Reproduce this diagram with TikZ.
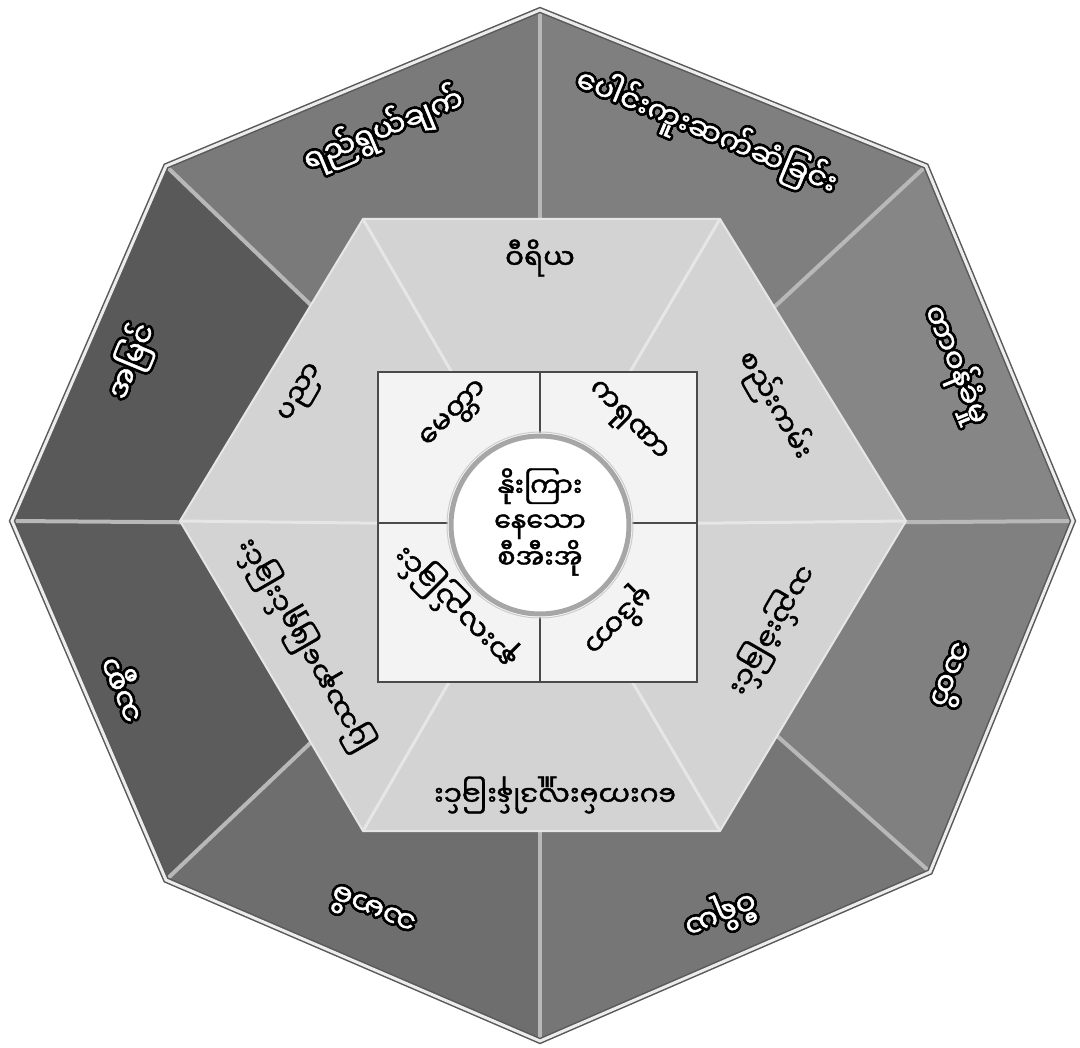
\documentclass[tikz,border=0pt]{standalone}
\usepackage{fontspec}
\usepackage{contour}
\newfontfamily\mm[Script=Myanmar]{Noto Sans Myanmar UI}
\newfontfamily\mmb[Script=Myanmar,FakeBold=1.5]{Noto Sans Myanmar UI}
\contourlength{2.6pt}
\contournumber{24}
\definecolor{outA}{HTML}{7A7A7A}
\definecolor{outB}{HTML}{7F7F7F}
\definecolor{outC}{HTML}{868686}
\definecolor{outD}{HTML}{808080}
\definecolor{outE}{HTML}{767676}
\definecolor{outF}{HTML}{6E6E6E}
\definecolor{outG}{HTML}{5C5C5C}
\definecolor{outH}{HTML}{595959}
\definecolor{hexfill}{HTML}{D3D3D3}
\definecolor{sqfill}{HTML}{F3F3F3}
\definecolor{spoke}{HTML}{B8B8B8}
\definecolor{hexspoke}{HTML}{E6E6E6}
\definecolor{darkline}{HTML}{4A4A4A}
\tikzset{
  outlbl/.style={inner sep=0pt, font=\mmb\fontsize{30}{36}\selectfont},
  hexlbl/.style={inner sep=0pt, font=\mmb\fontsize{28}{34}\selectfont, text=black},
  sqlbl/.style={inner sep=0pt, font=\mmb\fontsize{29}{34}\selectfont, text=black},
}
\newcommand{\wout}[1]{\contour{black}{\textcolor{white}{#1}}}
\begin{document}
\begin{tikzpicture}[x=1pt,y=-1pt]
\useasboundingbox (0,0) rectangle (1080,1048);
\fill[white] (0,0) rectangle (1080,1048);
% octagon vertices
\coordinate (C) at (540,525);
\coordinate (T) at (540,10);
\coordinate (TR) at (926,166);
\coordinate (R) at (1073,521);
\coordinate (BR) at (930,872);
\coordinate (B) at (540,1041);
\coordinate (BL) at (166,880);
\coordinate (L) at (12,521);
\coordinate (TL) at (166,166);
% outer sectors
\fill[outA] (C) -- (TL) -- (T) -- cycle;
\fill[outB] (C) -- (T) -- (TR) -- cycle;
\fill[outC] (C) -- (TR) -- (R) -- cycle;
\fill[outD] (C) -- (R) -- (BR) -- cycle;
\fill[outE] (C) -- (BR) -- (B) -- cycle;
\fill[outF] (C) -- (B) -- (BL) -- cycle;
\fill[outG] (C) -- (BL) -- (L) -- cycle;
\fill[outH] (C) -- (L) -- (TL) -- cycle;
% spokes
\foreach \p in {T,TR,R,BR,B,BL,L,TL} \draw[spoke, line width=4pt] (C) -- (\p);
% octagon border
\draw[gray!70!black, line width=6pt, line join=miter] (T) -- (TR) -- (R) -- (BR) -- (B) -- (BL) -- (L) -- (TL) -- cycle;
\draw[gray!15, line width=3pt, line join=miter] (T) -- (TR) -- (R) -- (BR) -- (B) -- (BL) -- (L) -- (TL) -- cycle;
% hexagon
\coordinate (HTL) at (363,219);
\coordinate (HTR) at (720,219);
\coordinate (HR) at (906,521);
\coordinate (HBR) at (720,831);
\coordinate (HBL) at (363,831);
\coordinate (HL) at (180,521);
\fill[hexfill] (HTL) -- (HTR) -- (HR) -- (HBR) -- (HBL) -- (HL) -- cycle;
\foreach \p in {HTL,HTR,HR,HBR,HBL,HL} \draw[hexspoke, line width=3pt] (C) -- (\p);
\draw[hexspoke, line width=2pt] (HTL) -- (HTR) -- (HR) -- (HBR) -- (HBL) -- (HL) -- cycle;
% square
\fill[sqfill] (378,372) rectangle (697,682);
\draw[darkline, line width=2.5pt] (378,372) rectangle (697,682);
\draw[darkline, line width=2.5pt] (540,372) -- (540,682);
\draw[darkline, line width=2.5pt] (378,523) -- (697,523);
% circle
\fill[white] (C) circle (92);
\draw[gray!70, line width=5pt] (C) circle (89);
\draw[gray!40, line width=1pt] (C) circle (93);
% outer labels
\node[outlbl, rotate=22.5] (o1) at (384,131) {\wout{ရည်ရွယ်ချက်}};
\node[outlbl, rotate=-22.5] (o2) at (706,133) {\wout{ပေါင်းကူးဆက်ဆံခြင်း}};
\node[outlbl, rotate=-67.5] (o3) at (955,365) {\wout{တာဝန်ခံမှု}};
\node[outlbl, rotate=-112.5] (o4) at (952,675) {\wout{သတိ}};
\node[outlbl, rotate=-157.5] (o5) at (720,913) {\wout{ဝီရိယ}};
\node[outlbl, rotate=157.5] (o6) at (373,910) {\wout{သမာဓိ}};
\node[outlbl, rotate=112.5] (o7) at (128,687) {\wout{သစ္စာ}};
\node[outlbl, rotate=67.5] (o8) at (133,362) {\wout{အမြင်}};
% hexagon labels
\node[hexlbl] (h1) at (540,258) {ဝီရိယ};
\node[hexlbl, rotate=-60] (h2) at (775,405) {စည်းကမ်း};
\node[hexlbl, rotate=-120] (h3) at (772,630) {သည်းခံခြင်း};
\node[hexlbl, rotate=180] (h4) at (555,795) {ပေးကမ်းလှူဒါန်းခြင်း};
\node[hexlbl, rotate=120] (h5) at (305,645) {ပြဿနာဖြေရှင်းခြင်း};
\node[hexlbl, rotate=60] (h6) at (303,394) {ပညာ};
% square labels
\node[sqlbl, rotate=45] (s1) at (456,416) {မေတ္တာ};
\node[sqlbl, rotate=-45] (s2) at (626,423) {ကရုဏာ};
\node[sqlbl, rotate=-135] (s3) at (618,620) {မုဒိတာ};
\node[sqlbl, rotate=135] (s4) at (456,607) {နားလည်ခြင်း};
% centre
\node[sqlbl, align=center, font=\mmb\fontsize{27}{35}\selectfont] (ctr) at (540,522) {နိုးကြား\\နေသော\\စီအီးအို};
\end{tikzpicture}
\end{document}
